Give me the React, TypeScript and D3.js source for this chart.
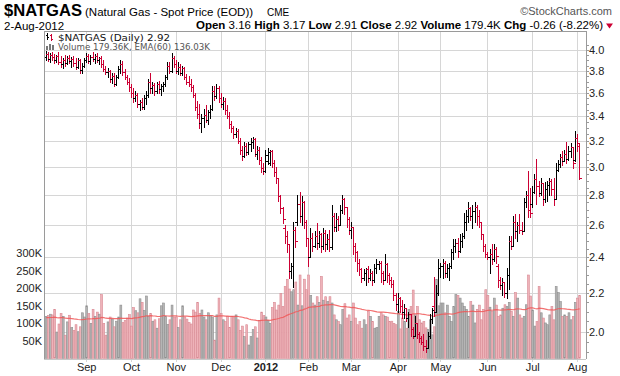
import React from "react";
import * as d3 from "d3";

// ---- Data ----
const opens = [
  3.93,3.96,3.91,3.95,3.93,3.90,3.94,3.88,3.86,3.90,3.87,3.92,3.89,3.91,3.87,3.84,3.90,3.81,3.85,
  3.90,3.94,3.89,3.93,3.91,3.94,3.90,3.92,3.86,3.82,3.79,3.80,3.72,3.75,3.68,3.74,3.82,3.86,3.79,3.74,3.70,
  3.65,3.60,3.55,3.58,3.50,3.52,3.48,3.55,3.58,3.70,3.64,3.67,3.62,3.68,3.63,3.66,3.68,3.74,3.85,3.80,3.92,
  3.86,3.80,3.84,3.78,3.83,3.74,3.70,3.68,3.65,3.58,3.48,3.42,3.34,3.38,3.41,3.37,3.43,3.46,3.62,3.57,3.64,
  3.55,3.50,3.53,3.45,3.40,3.33,3.30,3.25,3.28,3.20,3.13,3.08,3.16,3.11,3.17,3.19,3.21,3.10,3.13,3.05,2.99,
  2.97,3.04,3.03,3.12,3.03,2.96,2.92,2.79,2.71,2.58,2.53,2.48,2.32,2.35,2.57,2.62,2.74,2.66,2.75,2.62,
  2.52,2.40,2.52,2.47,2.53,2.49,2.54,2.47,2.55,2.48,2.51,2.46,2.66,2.59,2.64,2.60,2.70,2.77,2.72,2.64,
  2.57,2.59,2.47,2.43,2.37,2.33,2.28,2.31,2.33,2.28,2.31,2.27,2.34,2.36,2.37,2.31,2.27,2.36,2.30,2.27,2.25,2.19,
  2.14,2.17,2.13,2.10,2.12,2.07,2.09,2.01,1.98,2.04,1.99,1.97,1.95,1.93,1.92,1.98,2.06,2.13,2.10,2.20,
  2.34,2.35,2.37,2.31,2.34,2.35,2.43,2.47,2.49,2.44,2.50,2.53,2.62,2.66,2.71,2.66,2.69,2.72,2.66,2.62,2.54,2.47,
  2.42,2.40,2.42,2.39,2.45,2.35,2.27,2.24,2.26,2.20,2.30,2.50,2.47,2.62,2.56,2.60,2.57,2.56,2.75,2.80,2.70,
  2.74,2.82,2.91,2.86,2.81,2.88,2.77,2.84,2.87,2.90,2.84,2.77,2.98,3.02,3.07,3.04,3.10,3.06,3.12,3.15,3.05,
  3.22,3.16,
];
const highs = [
  3.99,3.98,3.97,3.98,3.96,3.95,3.98,3.94,3.92,3.95,3.94,3.95,3.93,3.94,3.92,3.92,3.91,3.87,3.92,
  3.97,3.96,3.95,3.98,3.96,3.97,3.93,3.94,3.90,3.85,3.83,3.81,3.78,3.78,3.76,3.85,3.90,3.89,3.82,3.76,3.73,
  3.68,3.64,3.62,3.60,3.54,3.55,3.58,3.62,3.72,3.78,3.70,3.69,3.70,3.71,3.68,3.70,3.76,3.88,3.88,3.97,3.94,
  3.90,3.88,3.86,3.85,3.84,3.77,3.75,3.72,3.67,3.60,3.53,3.50,3.42,3.46,3.49,3.45,3.49,3.66,3.66,3.68,3.66,
  3.60,3.56,3.55,3.49,3.43,3.36,3.32,3.30,3.29,3.22,3.16,3.19,3.18,3.19,3.22,3.23,3.22,3.16,3.15,3.07,3.03,
  3.13,3.14,3.13,3.13,3.05,3.00,2.92,2.80,2.72,2.60,2.56,2.48,2.37,2.62,2.59,2.80,2.82,2.79,2.76,2.63,
  2.52,2.58,2.55,2.56,2.61,2.56,2.55,2.58,2.57,2.54,2.57,2.73,2.68,2.68,2.66,2.73,2.80,2.78,2.72,2.65,
  2.62,2.59,2.49,2.44,2.39,2.34,2.33,2.34,2.35,2.33,2.32,2.36,2.39,2.38,2.38,2.32,2.42,2.37,2.31,2.29,2.27,2.20,
  2.20,2.18,2.16,2.14,2.12,2.10,2.09,2.02,2.08,2.04,2.00,1.98,1.99,1.96,2.00,2.09,2.12,2.29,2.24,2.39,
  2.37,2.39,2.38,2.36,2.37,2.45,2.51,2.51,2.52,2.54,2.55,2.68,2.70,2.75,2.72,2.73,2.75,2.73,2.70,2.62,2.54,2.48,
  2.43,2.45,2.48,2.48,2.46,2.36,2.29,2.28,2.26,2.34,2.53,2.53,2.66,2.67,2.62,2.67,2.62,2.78,2.83,2.97,2.85,
  2.86,2.95,3.06,2.90,2.92,2.88,2.89,2.90,2.92,2.91,2.92,3.03,3.05,3.10,3.12,3.13,3.19,3.16,3.18,3.15,3.28,
  3.25,3.17,
];
const lows = [
  3.90,3.89,3.88,3.90,3.87,3.88,3.86,3.84,3.83,3.85,3.86,3.87,3.84,3.85,3.82,3.83,3.78,3.78,3.84,
  3.88,3.87,3.86,3.89,3.87,3.88,3.86,3.84,3.80,3.77,3.74,3.70,3.69,3.66,3.67,3.73,3.78,3.76,3.72,3.68,3.62,
  3.56,3.52,3.53,3.48,3.45,3.46,3.46,3.50,3.56,3.60,3.60,3.58,3.60,3.60,3.58,3.62,3.66,3.72,3.78,3.79,3.84,
  3.78,3.77,3.76,3.76,3.72,3.68,3.66,3.62,3.56,3.45,3.38,3.30,3.27,3.31,3.35,3.33,3.38,3.45,3.54,3.55,3.52,
  3.48,3.46,3.42,3.38,3.30,3.27,3.22,3.23,3.18,3.10,3.05,3.07,3.09,3.10,3.12,3.14,3.08,3.06,3.02,2.96,2.95,
  2.96,3.02,3.01,3.00,2.93,2.88,2.76,2.68,2.61,2.49,2.43,2.28,2.28,2.23,2.46,2.60,2.62,2.60,2.58,2.47,
  2.35,2.40,2.44,2.46,2.45,2.46,2.43,2.45,2.44,2.45,2.44,2.45,2.56,2.56,2.57,2.60,2.68,2.67,2.59,2.54,
  2.52,2.42,2.38,2.32,2.30,2.26,2.27,2.24,2.26,2.27,2.24,2.26,2.31,2.33,2.26,2.25,2.27,2.26,2.25,2.23,2.16,2.11,
  2.10,2.10,2.07,2.07,2.05,2.02,1.98,1.97,1.98,1.97,1.95,1.94,1.91,1.90,1.92,1.97,2.04,2.08,2.10,2.19,
  2.29,2.28,2.29,2.29,2.27,2.34,2.39,2.43,2.40,2.43,2.46,2.52,2.57,2.62,2.63,2.58,2.62,2.60,2.59,2.51,2.44,2.40,
  2.39,2.31,2.36,2.38,2.37,2.23,2.22,2.19,2.18,2.17,2.22,2.45,2.47,2.52,2.50,2.55,2.54,2.56,2.72,2.65,2.65,
  2.72,2.81,2.74,2.79,2.80,2.73,2.75,2.76,2.80,2.80,2.73,2.77,2.97,3.00,3.01,3.04,3.03,3.05,3.07,2.99,3.04,
  3.12,2.91,
];
const closes = [
  3.96,3.91,3.95,3.93,3.90,3.94,3.88,3.86,3.90,3.87,3.92,3.89,3.91,3.87,3.84,3.90,3.81,3.85,3.90,
  3.94,3.89,3.93,3.91,3.94,3.90,3.92,3.86,3.82,3.79,3.80,3.72,3.75,3.68,3.74,3.82,3.86,3.79,3.74,3.70,3.65,
  3.60,3.55,3.58,3.50,3.52,3.48,3.55,3.58,3.70,3.64,3.67,3.62,3.68,3.63,3.66,3.68,3.74,3.85,3.80,3.92,3.86,
  3.80,3.84,3.78,3.83,3.74,3.70,3.68,3.65,3.58,3.48,3.42,3.34,3.38,3.41,3.37,3.43,3.46,3.62,3.57,3.64,3.55,
  3.50,3.53,3.45,3.40,3.33,3.30,3.25,3.28,3.20,3.13,3.08,3.16,3.11,3.17,3.19,3.21,3.10,3.13,3.05,2.99,2.97,
  3.09,3.11,3.12,3.03,2.96,2.92,2.79,2.71,2.64,2.53,2.48,2.32,2.35,2.57,2.50,2.74,2.66,2.75,2.62,2.52,
  2.40,2.52,2.47,2.53,2.49,2.54,2.47,2.55,2.48,2.51,2.46,2.66,2.59,2.64,2.60,2.70,2.77,2.72,2.64,2.57,
  2.59,2.47,2.43,2.37,2.33,2.28,2.31,2.33,2.28,2.31,2.27,2.34,2.36,2.37,2.31,2.27,2.36,2.30,2.27,2.25,2.19,2.14,
  2.17,2.13,2.10,2.12,2.07,2.09,2.01,1.98,2.04,1.99,1.97,1.95,1.93,1.92,1.98,2.06,2.11,2.10,2.20,2.34,
  2.35,2.37,2.31,2.34,2.35,2.43,2.47,2.49,2.44,2.50,2.53,2.62,2.66,2.71,2.66,2.69,2.72,2.66,2.62,2.54,2.47,2.42,
  2.40,2.42,2.39,2.45,2.41,2.27,2.24,2.26,2.20,2.30,2.50,2.47,2.62,2.56,2.60,2.57,2.56,2.75,2.80,2.70,2.68,
  2.82,2.91,2.86,2.81,2.88,2.77,2.84,2.87,2.90,2.84,2.77,2.98,3.02,3.07,3.04,3.10,3.06,3.12,3.15,3.03,3.22,
  3.18,2.92,
];
// volume in thousands
const volumes = [
  120,122,126,124,140,75,98,128,120,66,104,123,88,80,96,76,90,130,118,
  150,128,100,140,120,132,126,182,100,66,104,118,112,90,106,118,152,102,108,115,125,
  92,145,136,130,170,160,137,178,120,128,106,110,86,113,150,158,120,97,110,152,118,
  118,88,110,150,118,112,102,98,138,132,160,128,138,118,110,130,122,118,52,124,172,
  128,110,105,120,88,120,118,124,110,80,92,62,96,38,62,82,90,58,108,132,122,
  118,108,100,145,160,138,152,185,148,205,225,198,190,196,218,152,238,150,226,196,
  238,180,158,152,176,160,234,166,176,162,176,158,124,110,105,96,140,156,115,124,
  105,158,115,96,105,86,110,96,134,120,105,86,88,120,130,124,120,118,105,106,100,96,
  134,84,115,105,86,140,148,195,124,148,110,101,105,87,82,110,67,90,225,150,
  158,158,130,152,120,105,148,182,180,172,158,148,140,120,162,152,101,140,152,110,140,196,
  180,146,134,172,152,120,124,143,153,148,160,134,120,188,172,124,115,120,153,238,178,
  138,92,105,205,130,115,101,96,124,148,110,205,188,162,120,124,120,130,110,120,160,
  172,179.36,
];
const priceTicks = [2.0, 2.2, 2.4, 2.6, 2.8, 3.0, 3.2, 3.4, 3.6, 3.8, 4.0];
const volumeTicks = [50, 100, 150, 200, 250, 300];
const monthLabels = ["Sep", "Oct", "Nov", "Dec", "2012", "Feb", "Mar", "Apr", "May", "Jun", "Jul", "Aug"];
const holidays = ["2011-09-05", "2011-11-24", "2011-12-26", "2012-01-02", "2012-01-16", "2012-02-20", "2012-04-06", "2012-05-28", "2012-07-04"];
const firstDay = "2011-08-05";
const lastDay = "2012-08-02";
const emaSeed = 116;

function tradingDays(): Date[] {
  const out: Date[] = [];
  const d = new Date(firstDay + "T00:00:00Z");
  const end = new Date(lastDay + "T00:00:00Z");
  while (d <= end) {
    const wd = d.getUTCDay();
    const iso = d.toISOString().slice(0, 10);
    if (wd !== 0 && wd !== 6 && !holidays.includes(iso)) out.push(new Date(d));
    d.setUTCDate(d.getUTCDate() + 1);
  }
  return out;
}

const RED = "#cc0033";
const FONT = "'Liberation Sans', Arial, sans-serif";
const VFONT = "'DejaVu Sans', Verdana, sans-serif";
const GRID = "#d6d6d6";

export default function App() {
  const n = Math.min(opens.length, highs.length, lows.length, closes.length, volumes.length);
  const dates = tradingDays().slice(0, n);
  const L = 44, R = 586, T = 31, B = 359;

  const x = d3.scaleLinear().domain([0, 250]).range([46.15, 579.65]);
  const y = d3.scaleLog().domain([2, 4]).range([331.5, 50]);
  const yv = d3.scaleLinear().domain([0, 300]).range([358.3, 253.3]);

  const up = closes.slice(0, n).map((c, i) => (i === 0 ? true : c >= closes[i - 1]));

  let e = emaSeed;
  const ema = volumes.slice(0, n).map((v) => (e = e + (2 / 61) * (v - e)));
  const emaPath = d3.line<number>().x((_, i) => x(i)).y((v) => yv(v))(ema) || "";

  const monthIdx: number[] = [];
  for (let i = 1; i < dates.length; i++) {
    if (dates[i].getUTCMonth() !== dates[i - 1].getUTCMonth()) monthIdx.push(i);
  }

  const minorTicks: number[] = [];
  for (let p = 1.9; p <= 4.06; p += 0.05) minorTicks.push(+p.toFixed(2));

  return (
    <svg width={620} height={376} style={{ position: "absolute", left: 0, top: 0, background: "#fff" }} fontFamily={FONT}>
      {/* header */}
      <text x={4} y={16} fontSize={16} fontWeight="bold" textLength={78} lengthAdjust="spacingAndGlyphs">$NATGAS</text>
      <text x={85} y={16} fontSize={11.5}>(Natural Gas - Spot Price (EOD))</text>
      <text x={267} y={16} fontSize={10}>CME</text>
      <text x={612} y={15} fontSize={11} fill="#555" textAnchor="end">©StockCharts.com</text>
      <text x={4} y={29.5} fontSize={11.5}>2-Aug-2012</text>
      <text x={603} y={28.5} fontSize={11.5} textAnchor="end">
        <tspan fontWeight="bold">Open</tspan> 3.16 <tspan fontWeight="bold">High</tspan> 3.17 <tspan fontWeight="bold">Low</tspan> 2.91 <tspan fontWeight="bold">Close</tspan> 2.92 <tspan fontWeight="bold">Volume</tspan> 179.4K <tspan fontWeight="bold">Chg</tspan> -0.26 (-8.22%)
      </text>
      <polygon points="606,23.5 613,23.5 609.5,28.5" fill={RED} />

      {/* grid */}
      <g shapeRendering="crispEdges">
        {priceTicks.map((p) => (
          <line key={"h" + p} x1={L} x2={R} y1={Math.round(y(p)) + 0.5} y2={Math.round(y(p)) + 0.5} stroke={GRID} />
        ))}
        {monthIdx.map((i) => (
          <line key={"v" + i} x1={Math.floor(x(i)) + 0.5} x2={Math.floor(x(i)) + 0.5} y1={T} y2={B + 3} stroke={GRID} />
        ))}
      </g>

      {/* volume */}
      <g>
        {volumes.slice(0, n).map((v, i) => (
          <rect
            key={"vb" + i}
            x={x(i) - 0.95}
            y={yv(v)}
            width={1.9}
            height={yv(0) - yv(v)}
            fill={up[i] ? "#b5b5b5" : "#eeb3b9"}
            stroke={up[i] ? "#8f8f8f" : "#d98a94"}
            strokeWidth={0.6}
          />
        ))}
        <path d={emaPath} fill="none" stroke="#f05858" strokeWidth={1.2} strokeOpacity={0.85} />
      </g>

      {/* OHLC bars */}
      <g shapeRendering="crispEdges">
        {closes.slice(0, n).map((c, i) => {
          const px = Math.floor(x(i));
          const col = up[i] ? "#000" : RED;
          const yh = Math.round(y(highs[i]));
          const yl = Math.round(y(lows[i]));
          return (
            <g key={"b" + i} fill={col}>
              <rect x={px} y={yh} width={1} height={Math.max(1, yl - yh + 1)} />
              <rect x={px - 2} y={Math.round(y(opens[i]))} width={2} height={1} />
              <rect x={px + 1} y={Math.round(y(c))} width={2} height={1} />
            </g>
          );
        })}
      </g>

      {/* frame */}
      <g shapeRendering="crispEdges" stroke="#9a9a9a" fill="none">
        <line x1={L + 0.5} x2={L + 0.5} y1={T} y2={B} />
        <line x1={L} x2={R} y1={T + 0.5} y2={T + 0.5} />
        <line x1={R + 0.5} x2={R + 0.5} y1={T} y2={B} />
        <line x1={L} x2={R} y1={B + 0.5} y2={B + 0.5} stroke="#c8c8c8" />
        {minorTicks.map((p) => (
          <line key={"mt" + p} x1={R} x2={R + 3} y1={Math.round(y(p)) + 0.5} y2={Math.round(y(p)) + 0.5} />
        ))}
      </g>

      {/* price axis labels */}
      {priceTicks.map((p) => (
        <text key={"pl" + p} x={589} y={y(p) + 4} fontSize={11} fill="#222">{p.toFixed(1)}</text>
      ))}
      {/* volume axis labels */}
      {volumeTicks.map((v) => (
        <text key={"vl" + v} x={42} y={yv(v) + 4} fontSize={11} fill="#222" textAnchor="end">{v}K</text>
      ))}
      {/* month labels */}
      {monthIdx.map((i, k) => (
        <text key={"ml" + i} x={x(i)} y={371} fontSize={11} fill="#222" textAnchor="middle" fontWeight={monthLabels[k] === "2012" ? "bold" : "normal"}>
          {monthLabels[k]}
        </text>
      ))}

      {/* legend */}
      <g shapeRendering="crispEdges">
        <rect x={47} y={33} width={1} height={7} fill="#000" />
        <rect x={46} y={35} width={1} height={1} fill="#000" />
        <rect x={48} y={37} width={1} height={1} fill="#000" />
        <rect x={51} y={34} width={1} height={7} fill={RED} />
        <rect x={50} y={35} width={1} height={1} fill={RED} />
        <rect x={52} y={39} width={1} height={1} fill={RED} />
        <rect x={46} y={46} width={2} height={4} fill="#777" />
        <rect x={49} y={44} width={2} height={6} fill="#777" />
        <rect x={52} y={45} width={2} height={5} fill="#777" />
      </g>
      <text x={58} y={40.5} fontSize={9.5} fontFamily={VFONT} fill="#111" textLength={112} lengthAdjust="spacingAndGlyphs">$NATGAS (Daily) 2.92</text>
      <text x={58} y={50} fontSize={8.5} fontFamily={VFONT} fill="#555" textLength={152} lengthAdjust="spacingAndGlyphs">Volume 179.36K, EMA(60) 136.03K</text>
    </svg>
  );
}
